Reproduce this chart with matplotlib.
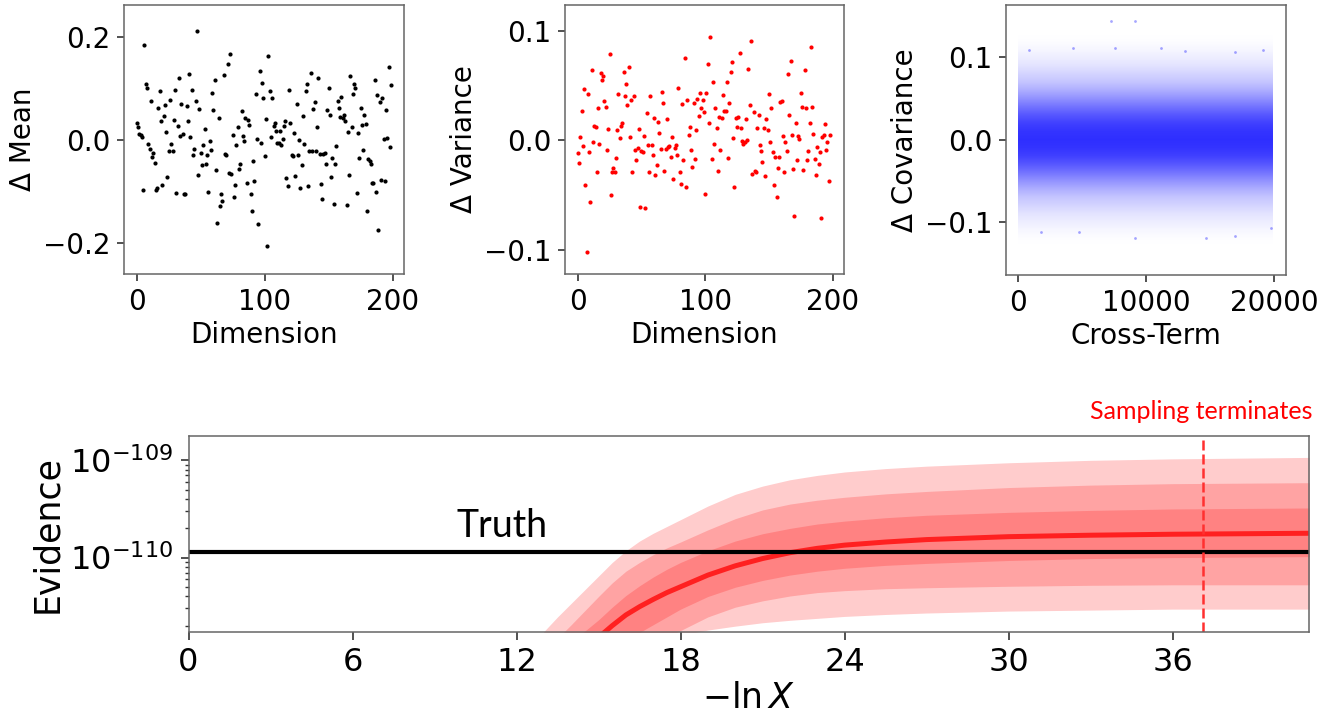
import numpy as np
import matplotlib
matplotlib.use("Agg")
import matplotlib.pyplot as plt

# ---- data ----
mean_delta = [
    0.034, 0.025, 0.013, 0.010, 0.006, -0.096, 0.186, 0.110, 0.102, -0.008,
    -0.016, 0.076, -0.032, -0.024, -0.044, -0.096, -0.092, 0.063, 0.095, 0.038,
    -0.086, 0.047, 0.069, 0.016, -0.072, -0.021, 0.078, -0.008, -0.021, 0.039,
    0.098, -0.102, 0.027, 0.122, 0.008, 0.071, 0.013, -0.105, -0.105, 0.067,
    0.038, 0.128, 0.006, 0.098, -0.028, -0.016, 0.076, 0.213, -0.067, 0.061,
    -0.024, -0.048, -0.010, 0.021, -0.046, -0.028, -0.100, -0.002, -0.018, 0.091,
    0.058, 0.117, -0.057, -0.161, 0.043, -0.128, -0.105, -0.118, 0.126, -0.026,
    -0.028, 0.149, -0.064, 0.167, -0.065, 0.010, -0.111, -0.087, -0.010, 0.026,
    -0.055, -0.046, 0.056, 0.008, -0.002, 0.043, -0.084, 0.039, 0.030, -0.105,
    -0.137, -0.041, -0.080, 0.089, 0.003, -0.163, 0.135, -0.006, 0.112, 0.082,
    -0.030, 0.041, -0.206, 0.163,
    0.095, 0.006, 0.082, 0.028, 0.034, 0.018, -0.006, -0.006, 0.018, -0.010,
    0.003, 0.027, 0.038, -0.074, -0.089, 0.098, 0.034, -0.029, -0.031, 0.015,
    -0.069, 0.071, -0.028, 0.000, -0.093, -0.048, 0.048, -0.008, 0.095, 0.110,
    -0.089, -0.021, 0.130, -0.021, 0.060, 0.074, -0.021, 0.026, 0.122, -0.026,
    -0.085, -0.115, -0.026, -0.024, -0.046, 0.059, 0.102, 0.049, -0.072, -0.035,
    -0.124, -0.046, -0.011, 0.076, 0.063, 0.045, 0.085, 0.043, 0.049, 0.038,
    -0.126, 0.017, -0.067, 0.124, 0.026, 0.089, 0.109, 0.101, -0.102, 0.015,
    -0.035, 0.063, 0.030, -0.018, 0.050, 0.031, -0.137, -0.037, -0.041, -0.047,
    -0.083, -0.084, 0.118, -0.100, 0.088, -0.175, 0.074, -0.078, 0.083, 0.003,
    -0.080, 0.058, 0.004, 0.142, -0.014, 0.107]

var_delta = [
    -0.012, -0.021, 0.003, 0.027, -0.005, 0.047, -0.041, -0.102, 0.042, -0.011,
    -0.056, 0.064, -0.002, 0.013, 0.012, -0.029, 0.029, -0.003, 0.061, 0.055,
    0.059, 0.036, 0.030, -0.009, 0.010, 0.079, -0.050, -0.029, -0.025, -0.029,
    -0.016, 0.009, 0.042, 0.002, 0.013, 0.016, 0.062, 0.040, 0.051, 0.032,
    0.067, 0.003, 0.037, -0.029, 0.040, -0.009, -0.018, -0.007, 0.010, -0.061,
    -0.010, -0.011, 0.004, -0.062, 0.025, -0.004, -0.029, 0.040, -0.004, -0.013,
    0.020, -0.032, -0.023, 0.017, 0.007, -0.008, 0.044, 0.034, -0.028, -0.008,
    0.019, -0.006, -0.005, -0.015, 0.003, -0.035, -0.007, -0.004, -0.013, 0.048,
    -0.029, -0.040, 0.033, -0.018, 0.075, -0.043, 0.037, 0.005, 0.012, -0.009,
    -0.024, 0.034, -0.017, 0.009, 0.038, 0.022, 0.043, 0.029, 0.037, 0.026,
    -0.049, 0.043, 0.070, 0.016, 0.094,
    -0.017, 0.053, -0.003, 0.029, 0.011, -0.028, 0.021, -0.009, 0.020, 0.041,
    0.027, 0.027, 0.053, -0.016, 0.034, 0.062, 0.071, 0.002, -0.043, 0.020,
    0.012, 0.021, 0.080, 0.011, -0.001, -0.003, -0.002, 0.019, 0.000, 0.065,
    0.032, 0.091, -0.031, 0.026, -0.028, -0.029, 0.011, 0.023, -0.004, -0.010,
    -0.020, 0.011, -0.033, 0.019, 0.009, 0.042, -0.002, 0.029, -0.011, -0.041,
    -0.015, -0.052, -0.025, -0.015, 0.035, 0.036, 0.004, -0.029, -0.002, -0.010,
    0.060, 0.023, 0.072, 0.005, -0.026, -0.069, 0.016, -0.018, 0.004, 0.001,
    0.043, 0.030, -0.027, 0.064, 0.029, -0.018, -0.010, 0.016, 0.085, 0.030,
    0.006, -0.017, -0.032, -0.006, -0.022, -0.011, -0.071, 0.003, 0.005, 0.015,
    -0.009, -0.002, -0.037, 0.005]

# covariance cloud: 19900 cross terms, too dense to read one by one,
# so the density of the cloud is read as opacity per level of delta
n_cross = 19900
cov_levels = [-0.13, -0.12, -0.11, -0.10, -0.09, -0.08, -0.07, -0.06, -0.05, -0.04,
              -0.03, -0.02, -0.01, 0.00, 0.01, 0.02, 0.03, 0.04, 0.05, 0.06,
              0.07, 0.08, 0.09, 0.10, 0.11, 0.12, 0.13]
cov_density = [0.0, 0.01, 0.035, 0.07, 0.11, 0.17, 0.23, 0.32, 0.43, 0.55,
               0.66, 0.75, 0.80, 0.82, 0.80, 0.75, 0.66, 0.55, 0.43, 0.32,
               0.23, 0.17, 0.11, 0.07, 0.035, 0.01, 0.0]
# stray points outside the band
cov_out_x = [7270, 9140, 830, 4270, 7600, 11200, 13070, 16980, 19140,
             9170, 14710, 16980, 4790, 1770, 19790]
cov_out_y = [0.144, 0.144, 0.109, 0.111, 0.111, 0.111, 0.108, 0.106, 0.109,
             -0.120, -0.120, -0.117, -0.112, -0.112, -0.107]

# evidence panel, log10(Z) of median and the 1/2/3 sigma bands
lnx = [12.5, 13, 13.5, 14, 14.5, 15, 15.5, 16, 16.5, 17, 17.5, 18,
       19, 20, 21, 22, 23, 24, 25.5, 27, 30, 33, 36, 41]
z_med = [-111.40, -111.28, -111.165, -111.05, -110.935, -110.82, -110.70, -110.59,
         -110.505, -110.43, -110.36, -110.30,
         -110.18, -110.085, -110.01, -109.95, -109.905, -109.872, -109.84, -109.815,
         -109.785, -109.77, -109.76, -109.75]
z_up1 = [-111.25, -111.12, -110.995, -110.87, -110.755, -110.64, -110.51, -110.39,
         -110.29, -110.20, -110.12, -110.05,
         -109.93, -109.83, -109.755, -109.70, -109.655, -109.625, -109.59, -109.565,
         -109.535, -109.515, -109.50, -109.49]
z_lo1 = [-111.55, -111.45, -111.35, -111.25, -111.15, -111.05, -110.95, -110.85,
         -110.77, -110.69, -110.61, -110.53,
         -110.40, -110.305, -110.235, -110.18, -110.14, -110.11, -110.08, -110.06,
         -110.03, -110.01, -110.00, -109.99]
z_up2 = [-111.13, -110.98, -110.83, -110.69, -110.545, -110.40, -110.26, -110.14,
         -110.05, -109.97, -109.90, -109.84,
         -109.715, -109.60, -109.51, -109.45, -109.41, -109.38, -109.345, -109.32,
         -109.28, -109.255, -109.24, -109.23]
z_lo2 = [-111.6, -111.5, -111.42, -111.35, -111.27, -111.2, -111.12, -111.05,
         -110.97, -110.90, -110.82, -110.75,
         -110.61, -110.51, -110.445, -110.395, -110.36, -110.34, -110.32, -110.31,
         -110.295, -110.285, -110.28, -110.28]
z_up3 = [-111.0, -110.76, -110.61, -110.47, -110.33, -110.19, -110.05, -109.93,
         -109.83, -109.75, -109.68, -109.61,
         -109.47, -109.35, -109.265, -109.20, -109.155, -109.12, -109.085, -109.06,
         -109.025, -109.0, -108.985, -108.97]
z_lo3 = [-111.9, -111.8, -111.7, -111.6, -111.5, -111.4, -111.3, -111.2,
         -111.1, -111.0, -110.88, -110.80,
         -110.745, -110.705, -110.67, -110.645, -110.625, -110.605, -110.585, -110.57,
         -110.55, -110.54, -110.53, -110.53]
z_truth = -109.94
x_stop = 37.1

# ---- figure ----
plt.rcParams['font.family'] = 'DejaVu Sans'
plt.rcParams['mathtext.fontset'] = 'dejavusans'
fig = plt.figure(figsize=(13.37, 7.24), dpi=100)

W, H = 1337.0, 724.0
def box(l, t, r, b):
    return [l / W, 1 - b / H, (r - l) / W, (b - t) / H]

ax1 = fig.add_axes(box(124, 5, 404, 274))
ax2 = fig.add_axes(box(565, 5, 844, 274))
ax3 = fig.add_axes(box(1006, 5, 1286, 275))
ax4 = fig.add_axes(box(188.5, 436, 1309.3, 631.5))

def style(ax, size, ticklen):
    for s in ax.spines.values():
        s.set_color('#666666')
        s.set_linewidth(1.1)
    ax.tick_params(labelsize=size, length=ticklen, width=1.2, color='#333333', pad=5)

# mean
dims_m = np.arange(len(mean_delta))
ax1.scatter(dims_m, mean_delta, s=9, c='black', linewidths=0)
ax1.set_xlim(-9.95, 208.95)
ax1.set_ylim(-0.26, 0.263)
ax1.set_xticks([0, 100, 200])
ax1.set_yticks([-0.2, 0.0, 0.2])
ax1.set_xlabel('Dimension', fontsize=20)
ax1.set_ylabel('Δ Mean', fontsize=20)
style(ax1, 20, 5)

# variance
dims_v = np.arange(len(var_delta))
ax2.scatter(dims_v, var_delta, s=9, c='red', linewidths=0)
ax2.set_xlim(-9.95, 208.95)
ax2.set_ylim(-0.122, 0.1234)
ax2.set_xticks([0, 100, 200])
ax2.set_yticks([-0.1, 0.0, 0.1])
ax2.set_xlabel('Dimension', fontsize=20)
ax2.set_ylabel('Δ Variance', fontsize=20)
style(ax2, 20, 5)

# covariance
dens = np.array(cov_density)
img = np.zeros((len(dens), 2, 4))
img[:, :, 2] = 1.0
img[:, :, 3] = dens[:, None]
step = cov_levels[1] - cov_levels[0]
ax3.imshow(img, origin='lower', aspect='auto', interpolation='bilinear',
           extent=[0, n_cross, cov_levels[0] - step / 2, cov_levels[-1] + step / 2])
ax3.scatter(cov_out_x, cov_out_y, s=4, c='blue', alpha=0.35, linewidths=0)
ax3.set_xlim(-950, 20940)
ax3.set_ylim(-0.1645, 0.1636)
ax3.set_xticks([0, 10000, 20000])
ax3.set_yticks([-0.1, 0.0, 0.1])
ax3.set_xlabel('Cross-Term', fontsize=20)
ax3.set_ylabel('Δ Covariance', fontsize=20)
style(ax3, 20, 5)

# evidence
ev = lambda a: 10.0 ** np.array(a)
for lo, hi in [(z_lo3, z_up3), (z_lo2, z_up2), (z_lo1, z_up1)]:
    ax4.fill_between(lnx, ev(lo), ev(hi), color='red', alpha=0.2, linewidth=0)
ax4.plot(lnx, ev(z_med), color='#ff2020', lw=3.6, solid_capstyle='butt')
ax4.axhline(10 ** z_truth, color='black', lw=3)
ax4.axvline(x_stop, color='#ff3030', lw=1.8, linestyle=(0, (4, 1.6)))
ax4.set_yscale('log')
ax4.set_xlim(0, 41)
ax4.set_ylim(10 ** -110.76, 10 ** -108.75)
ax4.set_xticks([0, 6, 12, 18, 24, 30, 36])
ax4.set_xlabel(r'$-\ln X$', fontsize=25, labelpad=2)
ax4.set_ylabel('Evidence', fontsize=25)
style(ax4, 23, 6)
ax4.tick_params(which='minor', length=3, width=1, color='#333333')
ax4.text(9.8, 10 ** -109.79, 'Truth', fontsize=27, family='Lato', va='baseline')
fig.text(1313 / W, 1 - 419 / H, 'Sampling terminates', fontsize=18, family='Lato',
         color='red', ha='right', va='baseline')

fig.savefig('out.png', dpi=100)
